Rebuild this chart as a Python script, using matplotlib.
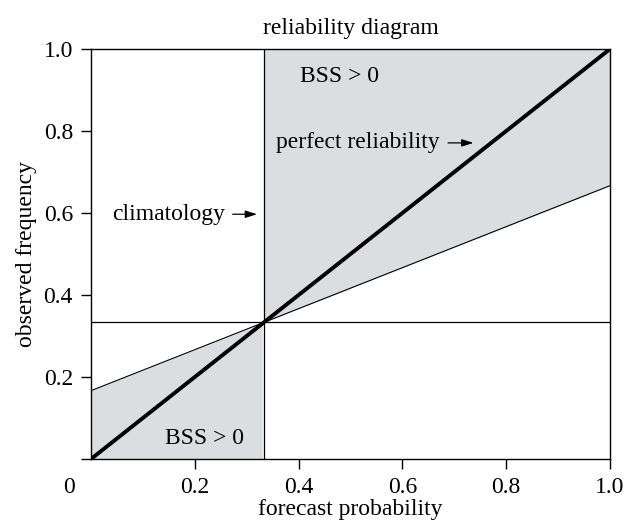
import matplotlib
matplotlib.use("Agg")
import matplotlib.pyplot as plt
import numpy as np

# reliability diagram, climatological frequency 1/3
clim = 1 / 3
x_edges = [0.0, 1.0]
perfect = [0.0, 1.0]
no_skill = [1 / 6, 2 / 3]          # halfway between perfect and climatology
x_ticks = [0.2, 0.4, 0.6, 0.8, 1.0]
y_ticks = [0.0, 0.2, 0.4, 0.6, 0.8, 1.0]
tick_labels_x = ["0.2", "0.4", "0.6", "0.8", "1.0"]
tick_labels_y = ["", "0.2", "0.4", "0.6", "0.8", "1.0"]

GREY = "#dcdde0"
FS = 17
plt.rcParams["font.family"] = ["Liberation Serif", "DejaVu Serif"]

fig = plt.figure(figsize=(6.27, 5.22), dpi=100)
ax = fig.add_axes([91 / 627, 63 / 522, 519 / 627, 410 / 522])

xs = np.linspace(x_edges[0], x_edges[1], 301)
ns = np.interp(xs, x_edges, no_skill)
ax.fill_between(xs, 0, ns, where=xs <= clim, color=GREY, lw=0, zorder=1)
ax.fill_between(xs, ns, 1, where=xs >= clim, color=GREY, lw=0, zorder=1)

ax.axhline(clim, color="black", lw=0.9, zorder=2)
ax.axvline(clim, color="black", lw=0.9, zorder=2)
ax.plot(x_edges, no_skill, color="black", lw=0.8, zorder=2)
ax.plot(x_edges, perfect, color="black", lw=2.8, zorder=3, solid_capstyle="butt")

ax.set_xlim(0, 1)
ax.set_ylim(0, 1)
ax.set_xticks(x_ticks)
ax.set_xticklabels(tick_labels_x)
ax.set_yticks(y_ticks)
ax.set_yticklabels(tick_labels_y)
ax.tick_params(direction="out", length=7, width=1, labelsize=FS, pad=6)
for s in ax.spines.values():
    s.set_linewidth(1.0)
ax.text(-0.043, -0.07, "0", transform=ax.transAxes, ha="center", va="center", fontsize=FS)

ax.set_title("reliability diagram", fontsize=FS, pad=11)
ax.set_xlabel("forecast probability", fontsize=FS, labelpad=1)
ax.set_ylabel("observed frequency", fontsize=FS, labelpad=5)

ax.text(0.479, 0.934, "BSS > 0", ha="center", va="center", fontsize=FS, zorder=4)
ax.text(0.219, 0.051, "BSS > 0", ha="center", va="center", fontsize=FS, zorder=4)

arrow = dict(arrowstyle="-|>,head_length=0.7,head_width=0.22", color="black",
             lw=0.9, shrinkA=0, shrinkB=0)
ax.text(0.672, 0.771, "perfect reliability", ha="right", va="center", fontsize=FS, zorder=4)
ax.annotate("", xy=(0.737, 0.771), xytext=(0.688, 0.771), arrowprops=arrow, zorder=4)
ax.text(0.258, 0.597, "climatology", ha="right", va="center", fontsize=FS, zorder=4)
ax.annotate("", xy=(0.320, 0.597), xytext=(0.273, 0.597), arrowprops=arrow, zorder=4)

fig.savefig("out.png", dpi=100, facecolor="white")
